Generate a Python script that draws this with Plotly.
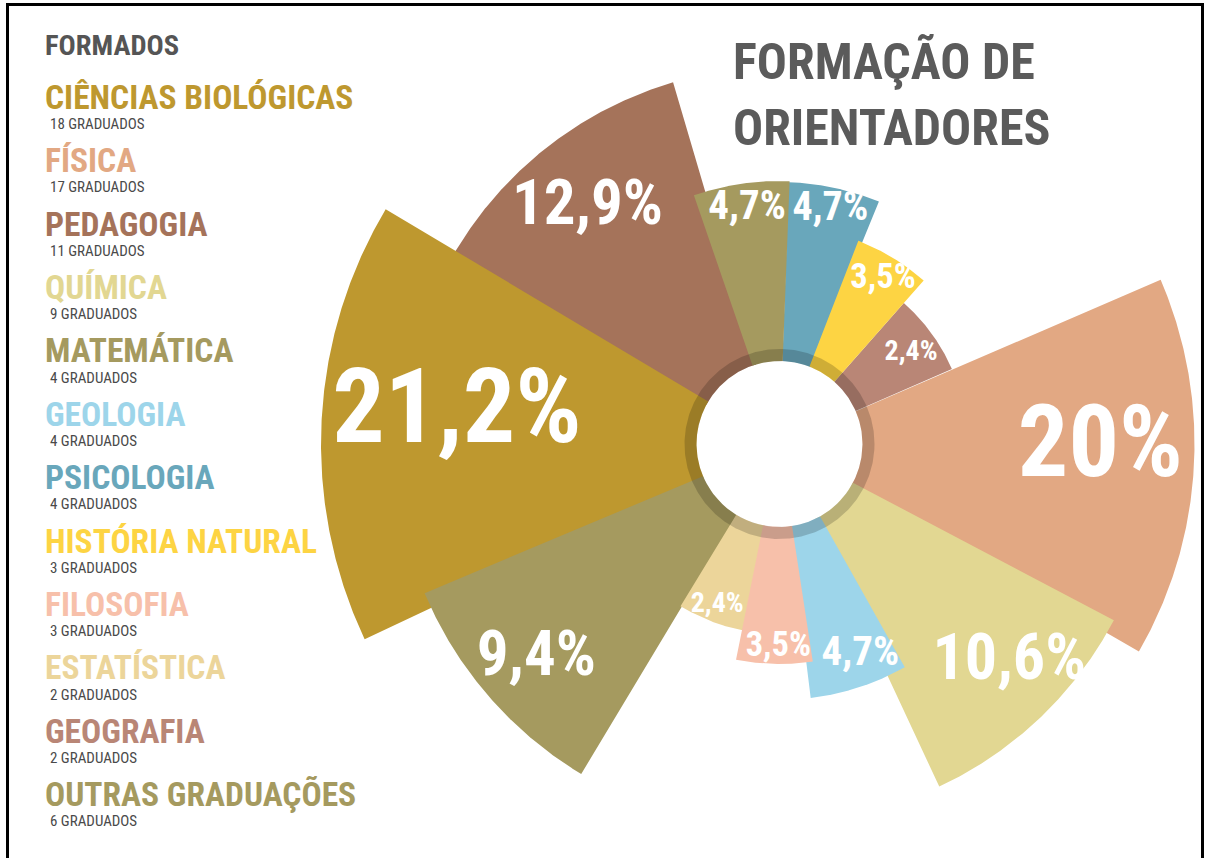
import numpy as np
import plotly.graph_objects as go

# ---------------- data ----------------
categories = ["CIÊNCIAS BIOLÓGICAS", "FÍSICA", "PEDAGOGIA", "QUÍMICA", "MATEMÁTICA",
              "GEOLOGIA", "PSICOLOGIA", "HISTÓRIA NATURAL", "FILOSOFIA", "ESTATÍSTICA",
              "GEOGRAFIA", "OUTRAS GRADUAÇÕES"]
graduados = [18, 17, 11, 9, 4, 4, 4, 3, 3, 2, 2, 6]
percent = [21.2, 20, 12.9, 10.6, 4.7, 4.7, 4.7, 3.5, 3.5, 2.4, 2.4, 9.4]

# ---------------- geometry of each petal (degrees ccw from east, px) ----------------
theta_start = [149.2, -30.0, 106.4, -65.0, 87.8, -83.0, 67.7, 48.6, -101.4, -121.4, 23.5, -157.2]
theta_end = [205.2, 23.3, 152.0, -27.8, 109.0, -60.7, 88.0, 68.8, -81.3, -100.0, 48.6, -121.0]
outer_r = [458.5, 415, 377, 378, 263, 256, 262, 218, 220, 190, 188, 385]
hole_r = 83
ring_outer = 95
draw_order = [2, 0, 11, 9, 1, 3, 5, 8, 10, 6, 4, 7]

# label placement (polar, px) and sizes
label_r = [323.8, 320.9, 304.2, 317.1, 237.2, 225.9, 239.5, 194.5, 203.5, 172.2, 160.2, 324.7]
label_theta = [174.95, -1.25, 129.13, -43.56, 97.87, -69.05, 77.75, 57.85, -90.34, -111.2, 34.83, -138.5]
label_size = [104, 100, 63, 64, 41, 41, 40, 34.5, 34.5, 28, 28, 63]

colors = ["#BE982F", "#E2A883", "#A5735A", "#E2D792", "#A59A5F", "#9DD5EA",
          "#69A7BB", "#FDD443", "#F7C0AA", "#ECD59A", "#B98676", "#A59A5F"]

FONT = ("Noto Sans ExtraCondensed, Noto Sans Display ExtraCondensed, Noto Sans Condensed, "
        "Roboto Condensed, Liberation Sans Narrow, DejaVu Sans Condensed, Roboto, sans-serif")
W, H = 1212, 858
cx, cy = 779.5, 444.0   # centre of the rose in page pixels


def sector(a0, a1, r0, r1, n=240):
    t = np.radians(np.linspace(a0, a1, n))
    xs = np.concatenate([r1 * np.cos(t), r0 * np.cos(t[::-1])])
    ys = np.concatenate([r1 * np.sin(t), r0 * np.sin(t[::-1])])
    return np.append(xs, xs[0]), np.append(ys, ys[0])


fig = go.Figure()
for i in draw_order:
    xs, ys = sector(theta_start[i], theta_end[i], hole_r, outer_r[i])
    fig.add_trace(go.Scatter(x=xs, y=ys, mode="lines", fill="toself",
                             fillcolor=colors[i], line=dict(width=0),
                             hoverinfo="skip", showlegend=False))

# darker translucent ring around the hole
xs, ys = sector(0, 360, hole_r, ring_outer, n=400)
fig.add_trace(go.Scatter(x=xs, y=ys, mode="lines", fill="toself",
                         fillcolor="rgba(0,0,0,0.18)", line=dict(width=0),
                         hoverinfo="skip", showlegend=False))

lt = np.radians(label_theta)
fig.add_trace(go.Scatter(
    x=np.array(label_r) * np.cos(lt), y=np.array(label_r) * np.sin(lt), mode="text",
    text=[("%g" % p).replace(".", ",") + "%" for p in percent],
    textposition="middle center",
    textfont=dict(family=FONT, size=label_size, color="white", weight="bold"),
    hoverinfo="skip", showlegend=False,
))

fig.update_layout(
    width=W, height=H,
    margin=dict(l=0, r=0, t=0, b=0, pad=0),
    paper_bgcolor="white", plot_bgcolor="white",
    xaxis=dict(range=[-cx, W - cx], visible=False, fixedrange=True),
    yaxis=dict(range=[-(H - cy), cy], visible=False, fixedrange=True),
    showlegend=False,
)

ann = []


def px_ann(text, x, y, size, color, bold=True):
    ann.append(dict(text=text, x=x / W, y=1 - y / H, xref="paper", yref="paper",
                    xanchor="left", yanchor="middle", showarrow=False,
                    font=dict(family=FONT, size=size, color=color,
                              weight="bold" if bold else "normal")))


# title
px_ann("FORMAÇÃO DE", 731, 62, 50, "#5B5B5B")
px_ann("ORIENTADORES", 731, 128, 50, "#5B5B5B")

# legend
px_ann("FORMADOS", 43, 45, 28.5, "#555555")
for k, name in enumerate(categories):
    yc = 97.2 + 63.4 * k
    px_ann(name, 43, yc, 33.5, colors[k])
    px_ann("%d GRADUADOS" % graduados[k], 47.5, yc + 26.8, 15, "#4A4A4A", bold=False)

fig.update_layout(annotations=ann)

# frame
fig.add_shape(type="rect", xref="paper", yref="paper",
              x0=7.5 / W, x1=1202.5 / W, y0=-0.02, y1=1 - 4.5 / H,
              line=dict(color="black", width=3), fillcolor="rgba(0,0,0,0)")

fig.write_html("out.html", config={"displayModeBar": False},
               post_script="document.body.style.margin='0px';")
